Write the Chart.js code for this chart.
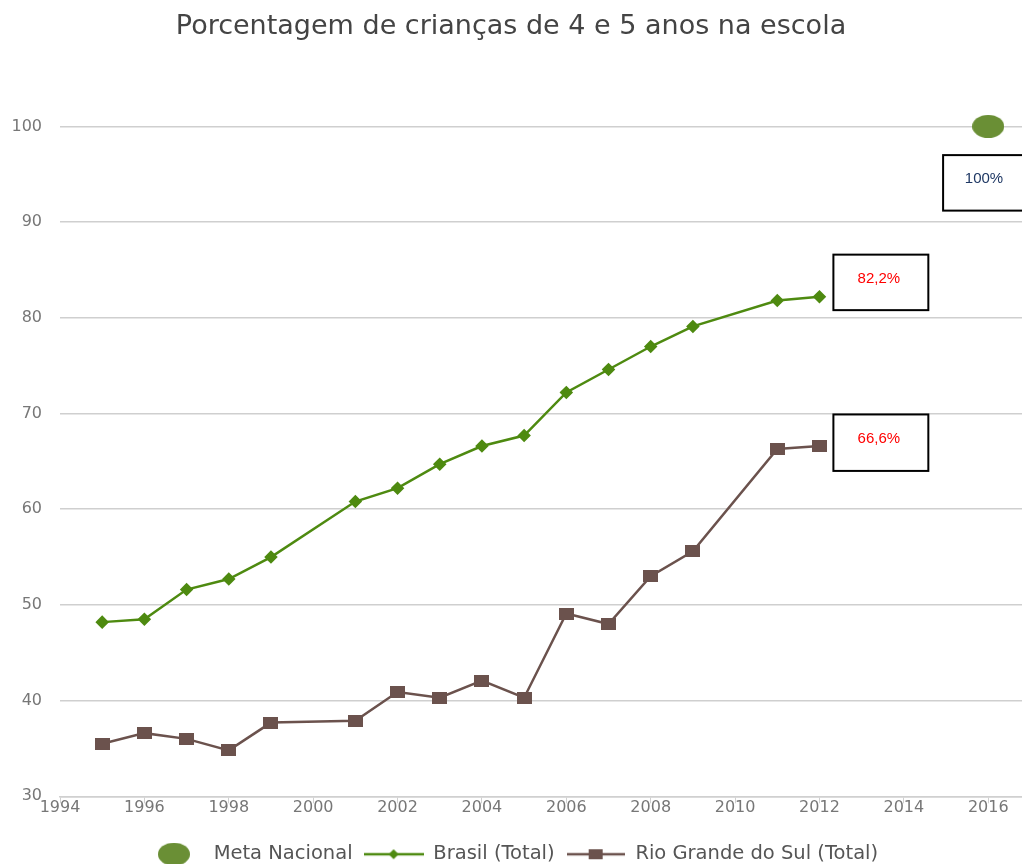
<!DOCTYPE html>
<html lang="pt">
<head>
  <meta charset="UTF-8" />
  <title>Porcentagem de crianças de 4 e 5 anos na escola</title>
  <script src="https://cdn.jsdelivr.net/npm/chart.js"></script>
  <style>
    html, body { margin: 0; padding: 0; background: #fff; overflow: hidden; }
    #caixa { width: 1022px; height: 864px; overflow: hidden; }
  </style>
</head>
<body>
  <div id="caixa"><canvas id="grafico"></canvas></div>

  <script>
    // dados
    const anos = [1995, 1996, 1997, 1998, 1999, 2001, 2002, 2003, 2004, 2005, 2006, 2007, 2008, 2009, 2011, 2012];
    const brasil = [48.2, 48.5, 51.6, 52.7, 55.0, 60.8, 62.2, 64.7, 66.6, 67.7, 72.2, 74.6, 77.0, 79.1, 81.8, 82.2];
    const rioGrande = [35.5, 36.6, 36.0, 34.8, 37.7, 37.9, 40.9, 40.3, 42.1, 40.3, 49.1, 48.0, 53.0, 55.6, 66.3, 66.6];
    const metaAno = [2016];
    const metaValor = [100];
    const rotulos = ['100%', '82,2%', '66,6%'];

    const VERDE = '#4e8a10';
    const MARROM = '#6b524d';
    const VERDE_META = '#6a8f35';

    function marcador(w, h, desenha) {
      const c = document.createElement('canvas');
      c.width = w; c.height = h;
      desenha(c.getContext('2d'), w, h);
      return c;
    }

    const elipse = marcador(32, 23, (g, w, h) => {
      g.fillStyle = VERDE_META;
      g.beginPath();
      g.ellipse(w / 2, h / 2, w / 2, h / 2, 0, 0, Math.PI * 2);
      g.fill();
    });
    const quadrado = marcador(15, 12, (g, w, h) => {
      g.fillStyle = MARROM;
      g.fillRect(0, 0, w, h);
    });
    const legBrasil = marcador(60, 12, (g, w, h) => {
      g.strokeStyle = VERDE; g.lineWidth = 2.5;
      g.beginPath(); g.moveTo(0, h / 2); g.lineTo(w, h / 2); g.stroke();
      g.fillStyle = VERDE;
      g.beginPath();
      g.moveTo(w / 2, h / 2 - 5); g.lineTo(w / 2 + 5, h / 2);
      g.lineTo(w / 2, h / 2 + 5); g.lineTo(w / 2 - 5, h / 2);
      g.closePath(); g.fill();
    });
    const legRS = marcador(58, 12, (g, w, h) => {
      g.strokeStyle = MARROM; g.lineWidth = 2.5;
      g.beginPath(); g.moveTo(0, h / 2); g.lineTo(w, h / 2); g.stroke();
      g.fillStyle = MARROM;
      g.fillRect(w / 2 - 7, h / 2 - 5, 14, 10);
    });

    // caixas de texto ao lado dos últimos valores
    const caixasTexto = {
      id: 'caixasTexto',
      afterDatasetsDraw(chart) {
        const { ctx, scales: { x, y } } = chart;
        const caixas = [
          { texto: rotulos[0], cor: '#1f3864', x0: 2014.93, x1: 2017.2, y0: 97.0, y1: 91.2 },
          { texto: rotulos[1], cor: '#ff0000', x0: 2012.33, x1: 2014.58, y0: 86.6, y1: 80.8 },
          { texto: rotulos[2], cor: '#ff0000', x0: 2012.33, x1: 2014.58, y0: 69.9, y1: 64.0 }
        ];
        ctx.save();
        caixas.forEach(c => {
          const l = x.getPixelForValue(c.x0), r = x.getPixelForValue(c.x1);
          const t = y.getPixelForValue(c.y0), b = y.getPixelForValue(c.y1);
          ctx.fillStyle = '#fff';
          ctx.fillRect(l, t, r - l, b - t);
          ctx.strokeStyle = '#000';
          ctx.lineWidth = 2;
          ctx.strokeRect(l, t, r - l, b - t);
          ctx.fillStyle = c.cor;
          ctx.font = '15px "Liberation Sans"';
          ctx.textAlign = 'center';
          ctx.textBaseline = 'middle';
          const cx = Math.min((l + r) / 2 - 2, 984);
          ctx.fillText(c.texto, cx, (t + b) / 2 - 4);
        });
        ctx.restore();
      }
    };

    const ctx = document.getElementById('grafico').getContext('2d');
    const chart = new Chart(ctx, {
      type: 'line',
      data: {
        datasets: [
          {
            label: 'Meta Nacional',
            data: metaAno.map((a, i) => ({ x: a, y: metaValor[i] })),
            showLine: false,
            pointStyle: elipse,
            backgroundColor: VERDE_META,
            borderColor: VERDE_META,
            clip: false
          },
          {
            label: 'Brasil (Total)',
            data: anos.map((a, i) => ({ x: a, y: brasil[i] })),
            borderColor: VERDE,
            backgroundColor: VERDE,
            borderWidth: 2.5,
            pointStyle: 'rectRot',
            pointRadius: 5,
            pointHoverRadius: 5,
            tension: 0,
            clip: false
          },
          {
            label: 'Rio Grande do Sul (Total)',
            data: anos.map((a, i) => ({ x: a, y: rioGrande[i] })),
            borderColor: MARROM,
            backgroundColor: MARROM,
            borderWidth: 2.5,
            pointStyle: quadrado,
            tension: 0,
            clip: false
          }
        ]
      },
      options: {
        responsive: true,
        maintainAspectRatio: false,
        animation: false,
        layout: { autoPadding: false, padding: { left: 0, right: 0, top: 0, bottom: -10 } },
        plugins: {
          title: {
            display: true,
            text: 'Porcentagem de crianças de 4 e 5 anos na escola',
            color: '#444',
            font: { family: 'DejaVu Sans', size: 27, weight: 'normal' },
            padding: { top: 11, bottom: 83 }
          },
          legend: {
            position: 'bottom',
            labels: {
              usePointStyle: true,
              pointStyleWidth: 60,
              boxHeight: 14,
              padding: 11,
              color: '#555',
              font: { family: 'DejaVu Sans', size: 19.5 },
              generateLabels(ch) {
                const itens = Chart.defaults.plugins.legend.labels.generateLabels(ch);
                const imgs = [elipse, legBrasil, legRS];
                itens.forEach((it, i) => { it.pointStyle = imgs[i]; });
                return itens;
              }
            }
          },
          tooltip: { enabled: false }
        },
        scales: {
          x: {
            type: 'linear',
            min: 1994,
            max: 2016.8,
            ticks: {
              stepSize: 2,
              includeBounds: false,
              autoSkip: false,
              maxRotation: 0,
              padding: -5,
              color: '#777',
              font: { family: 'DejaVu Sans', size: 16 },
              callback: v => String(v)
            },
            grid: { drawOnChartArea: false, drawTicks: true, tickLength: 7, color: '#d0d0d0' },
            border: { color: '#d0d0d0', width: 1.5 },
            afterFit(scale) {
              scale.paddingRight = 0;
              scale.height += 21;
            }
          },
          y: {
            min: 30,
            max: 100,
            ticks: {
              stepSize: 10,
              padding: 18,
              color: '#777',
              font: { family: 'DejaVu Sans', size: 16 }
            },
            grid: { drawTicks: false, color: '#cfcfcf', lineWidth: 1.5 },
            border: { display: false },
            afterFit(scale) { scale.width = 60; }
          }
        }
      },
      plugins: [caixasTexto]
    });
  </script>
</body>
</html>
